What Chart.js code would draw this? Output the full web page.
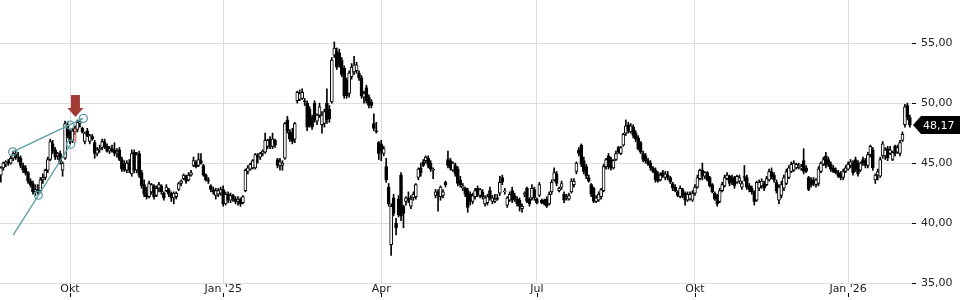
<!DOCTYPE html>
<html>
<head>
<meta charset="utf-8">
<script src="https://cdn.jsdelivr.net/npm/chart.js@4.4.1/dist/chart.umd.min.js"></script>
<style>
  html, body { margin: 0; padding: 0; background: #fff; }
  #wrap { width: 960px; height: 300px; }
</style>
</head>
<body>
<div id="wrap"><canvas id="kurs"></canvas></div>
<script>
// daily candles, one per trading day (index 0 = late Aug 2024)
const opens = [
  44.0,44.6,44.9,45.1,45.0,45.4,45.8,45.5,45.4,44.8,
  44.6,44.2,43.5,43.3,42.6,42.8,42.7,43.6,43.8,44.4,
  45.3,46.6,46.1,45.6,45.8,44.4,45.4,48.2,47.6,46.9,
  47.6,47.8,48.3,47.9,46.8,47.7,46.8,47.2,46.7,45.8,
  46.1,46.3,46.8,46.4,46.0,46.2,46.1,45.8,46.1,45.3,
  44.9,44.4,45.0,44.1,45.9,44.4,45.8,44.2,43.2,42.4,
  42.2,42.6,43.1,42.3,42.9,43.1,42.5,42.7,42.8,42.4,
  42.1,42.2,42.8,43.3,43.7,43.9,43.6,44.0,44.8,45.1,
  44.8,45.2,44.8,44.0,43.6,43.1,42.8,42.3,42.4,42.5,
  42.8,41.6,42.4,41.9,42.3,42.0,41.8,42.0,41.7,42.7,
  44.3,44.5,44.6,44.6,45.6,45.5,45.8,45.9,46.4,47.0,
  46.4,46.9,45.3,44.8,44.8,45.4,48.6,47.6,47.5,47.0,
  50.2,50.3,50.4,50.2,50.0,49.5,48.8,50.0,48.5,49.0,
  48.2,48.3,50.0,49.5,50.1,54.0,54.3,54.2,53.6,52.9,
  51.9,50.8,52.2,52.6,52.7,52.5,52.1,50.5,51.3,50.5,
  50.1,48.3,47.7,46.7,46.6,45.8,44.7,43.0,38.2,42.1,
  40.0,42.0,44.0,41.4,41.8,42.1,41.4,42.1,42.2,43.8,
  44.6,45.1,45.2,45.4,45.0,44.4,42.3,42.6,42.2,42.3,
  43.4,45.3,45.2,44.4,44.8,44.5,43.6,42.9,42.9,42.7,
  42.4,41.8,42.2,42.9,42.3,42.6,41.6,41.7,42.7,41.8,
  41.8,42.1,42.5,43.8,42.6,41.5,41.9,42.7,42.3,42.0,
  41.9,41.2,42.4,42.9,42.0,42.1,42.8,42.0,42.3,41.9,
  41.9,42.0,41.6,42.6,43.6,44.1,42.7,43.0,42.4,42.1,
  42.0,42.6,43.2,44.3,46.1,46.5,45.2,44.7,43.8,43.2,
  42.9,41.8,41.9,42.2,42.7,44.7,45.6,45.3,44.6,45.3,
  46.3,45.8,46.5,47.5,48.2,47.6,48.0,47.5,47.1,46.7,
  45.8,45.6,45.2,45.0,44.6,44.4,44.1,43.6,44.2,43.8,
  44.0,43.8,43.3,43.0,42.6,42.2,42.8,42.5,41.9,42.0,
  41.9,42.5,43.0,43.7,44.4,43.9,44.2,43.8,43.2,42.5,
  42.3,41.8,42.7,43.1,43.7,43.9,43.8,43.8,43.4,43.5,
  43.0,43.85,43.8,43.1,42.9,42.6,41.9,42.9,43.1,43.3,
  43.2,43.6,44.3,44.0,43.4,41.9,42.3,42.9,43.3,43.8,
  44.3,44.4,44.6,44.7,44.6,45.2,44.6,43.8,43.6,43.6,
  43.2,43.3,44.3,44.9,45.6,45.3,44.9,44.6,44.4,44.2,
  44.1,43.8,44.3,44.5,44.8,45.0,45.3,45.0,44.4,45.3,
  45.2,44.8,45.7,46.1,43.6,44.0,43.9,45.6,45.6,46.2,
  45.8,45.3,46.4,45.9,45.8,46.9,48.2,49.8,48.8
];
const highs = [
  44.7,45.1,45.2,45.3,45.6,46.0,46.1,45.9,45.6,45.0,
  44.8,44.3,43.7,43.5,43.2,43.2,43.8,44.1,44.5,45.5,
  47.0,46.9,46.3,45.9,46.0,45.1,48.5,48.4,47.8,47.9,
  48.1,48.6,48.7,48.0,47.6,47.9,47.4,47.4,46.9,46.3,
  46.5,47.0,47.0,46.6,46.4,46.5,46.7,46.2,46.3,45.5,
  45.2,45.2,45.3,46.1,46.1,45.9,46.0,44.4,43.6,43.0,
  43.5,43.3,43.2,43.1,43.4,43.2,42.6,43.2,42.9,42.6,
  42.6,42.6,43.4,43.6,44.1,44.0,44.2,44.4,45.5,45.2,
  45.8,45.8,44.9,44.1,43.8,43.2,43.0,42.9,42.9,43.0,
  43.1,42.6,42.6,42.5,42.4,42.2,42.2,42.1,42.3,44.5,
  44.8,45.0,45.3,45.8,45.8,45.9,46.1,47.5,47.0,47.2,
  47.5,47.0,45.4,45.4,45.2,48.4,48.9,47.8,47.9,48.4,
  51.0,51.1,51.2,50.4,50.2,49.7,49.0,50.2,49.1,50.0,
  49.3,49.5,51.2,49.8,53.8,55.1,54.6,54.5,53.8,53.1,
  52.1,52.7,53.3,53.9,53.4,52.7,52.3,51.0,51.5,50.7,
  50.3,49.1,48.4,46.8,46.9,46.4,45.4,43.3,41.6,42.4,
  40.4,42.3,44.2,41.5,42.2,42.6,42.3,42.6,43.3,44.6,
  45.0,45.3,45.6,45.6,45.2,44.6,42.8,42.8,43.1,42.8,
  43.5,46.0,45.4,45.1,45.0,44.7,43.9,43.3,43.0,42.9,
  42.6,42.5,42.9,43.1,42.9,42.8,42.3,42.4,43.0,42.3,
  42.4,42.4,43.9,44.0,42.9,42.2,42.6,43.0,42.5,42.2,
  42.1,41.6,42.6,43.0,42.1,43.2,43.0,42.1,43.4,42.0,
  42.0,42.2,42.6,43.6,44.6,44.3,43.0,43.5,42.6,42.4,
  42.5,43.7,43.7,45.1,46.3,46.6,45.5,44.9,44.0,43.3,
  43.0,42.3,42.6,42.9,44.9,45.4,45.8,45.5,45.3,46.0,
  46.4,46.4,47.5,48.6,48.4,48.3,48.2,47.7,47.3,46.8,
  46.0,45.8,45.4,45.2,44.7,44.6,44.3,44.2,44.4,44.3,
  44.3,43.9,43.4,43.2,42.7,43.1,42.9,42.6,42.6,42.6,
  42.7,43.2,44.0,44.5,45.0,44.3,44.3,43.9,43.3,42.6,
  42.4,42.9,43.4,44.0,44.2,44.0,44.0,43.9,44.0,44.0,
  43.5,44.8,44.0,43.3,43.1,42.7,43.5,43.6,43.7,43.5,
  43.9,44.5,44.6,44.2,43.6,43.2,43.5,44.0,44.5,44.8,
  45.1,45.2,45.0,45.0,44.9,46.2,44.8,43.9,43.8,43.8,
  43.7,44.7,45.1,45.5,45.9,45.5,45.1,44.8,44.6,44.4,
  44.3,44.5,44.8,45.1,45.3,45.2,45.5,45.2,45.1,45.5,
  45.4,45.9,46.5,46.3,44.1,44.5,45.5,46.8,46.3,46.4,
  46.4,46.0,46.5,46.5,46.9,47.6,49.9,50.0,49.0
];
const lows = [
  43.4,44.4,44.7,44.8,44.9,45.2,45.3,45.1,44.6,44.2,
  44.0,43.3,43.0,42.4,42.3,42.4,42.5,43.3,43.6,44.2,
  45.2,45.8,45.3,45.3,44.9,43.9,45.3,47.1,46.6,46.7,
  47.4,47.6,48.0,47.5,46.6,47.2,46.6,46.9,45.4,45.6,
  45.9,46.1,46.2,45.9,45.8,45.9,45.6,45.5,45.2,44.3,
  44.3,44.2,44.2,43.9,44.2,44.2,43.8,42.9,42.2,42.0,
  42.1,42.4,42.0,42.2,42.6,42.4,41.9,42.6,42.2,41.8,
  41.6,42.0,42.7,43.1,43.6,43.3,43.5,43.9,44.7,44.6,
  44.7,44.9,43.9,43.5,43.3,42.6,42.4,42.0,42.2,42.3,
  41.4,41.5,41.7,41.7,41.8,41.6,41.5,41.4,41.6,42.6,
  44.1,44.4,44.5,44.5,45.0,45.3,45.6,45.8,46.2,46.2,
  46.2,46.3,44.6,44.4,44.4,45.3,47.5,46.8,46.6,46.7,
  50.0,50.2,50.3,49.8,47.7,48.0,47.8,48.4,48.2,48.8,
  47.5,48.0,48.3,48.4,50.0,53.8,52.8,53.0,52.2,50.4,
  50.4,50.5,52.0,52.4,52.5,51.9,50.4,50.0,50.0,49.6,
  49.6,47.7,47.5,45.3,45.2,45.6,43.4,41.4,37.3,40.6,
  39.0,40.5,40.2,39.6,41.5,41.7,41.2,41.9,42.0,43.6,
  43.9,44.7,45.0,44.6,44.3,43.7,42.1,41.0,41.9,42.1,
  43.0,44.6,44.4,44.3,43.9,43.1,43.0,42.7,42.2,40.9,
  41.5,41.6,42.0,42.2,42.1,42.0,41.4,41.5,41.9,41.6,
  41.7,41.9,42.3,43.2,42.4,41.3,41.8,41.7,41.8,41.4,
  41.0,40.9,42.2,41.7,41.4,41.9,41.9,41.6,42.2,41.6,
  41.5,41.3,41.5,42.4,43.5,43.1,42.6,42.8,41.7,41.9,
  41.9,42.5,43.0,44.1,45.6,44.7,44.1,43.7,43.4,42.2,
  41.7,41.7,41.8,42.0,42.6,44.5,44.5,44.4,44.5,45.2,
  45.8,45.7,46.4,47.3,47.5,47.5,47.1,46.8,46.1,45.8,
  45.1,45.0,44.8,44.4,44.2,43.4,43.4,43.5,43.8,43.6,
  43.6,43.3,42.7,42.6,42.2,42.1,42.1,41.5,41.8,41.9,
  41.8,42.3,42.9,43.6,43.6,43.7,43.5,43.0,42.5,41.9,
  41.4,41.7,42.6,43.0,43.6,43.1,43.2,42.9,43.3,43.3,
  42.8,43.5,42.8,42.6,42.4,41.5,41.8,42.7,42.9,42.7,
  43.1,43.5,43.7,43.4,42.5,41.6,42.1,42.7,43.2,43.7,
  44.2,44.3,44.5,44.5,44.4,44.1,44.2,42.7,43.0,43.1,
  43.0,43.1,44.2,44.8,44.6,44.7,44.3,44.2,44.1,43.8,
  43.6,43.6,44.2,44.4,44.6,44.0,44.3,43.9,44.3,44.8,
  44.6,44.6,45.5,44.4,43.3,43.6,43.8,45.4,45.3,45.2,
  45.7,45.2,45.6,45.8,45.6,46.8,48.0,48.6,48.0
];
const closes = [
  44.6,45.0,45.1,45.0,45.4,45.8,45.5,45.4,44.8,44.4,
  44.2,43.5,43.2,42.6,42.8,42.6,43.6,43.8,44.4,45.3,
  46.8,46.0,45.5,45.8,45.1,45.0,48.3,47.3,46.8,47.7,
  47.9,48.4,48.5,47.6,47.5,47.3,47.3,47.0,45.8,46.1,
  46.2,46.8,46.4,46.0,46.2,46.0,45.8,45.9,45.3,44.5,
  44.4,45.0,44.4,45.8,44.4,45.7,44.0,43.1,42.4,42.2,
  43.3,43.2,42.2,42.9,43.2,42.6,42.1,43.0,42.4,42.1,
  42.5,42.5,43.3,43.5,44.0,43.5,44.0,44.2,45.2,44.7,
  45.3,45.0,44.0,43.6,43.5,42.8,42.6,42.7,42.7,42.8,
  41.6,42.4,41.9,42.3,42.0,41.8,42.0,41.6,42.2,44.4,
  44.6,44.9,45.2,45.7,45.5,45.8,46.0,46.9,46.9,46.4,
  47.0,46.5,44.8,45.1,45.0,48.3,47.7,47.0,46.8,48.3,
  50.9,50.8,50.9,50.1,48.0,48.2,48.0,48.6,49.0,49.7,
  49.0,49.3,48.6,48.7,53.6,54.6,53.0,53.2,52.4,50.6,
  50.6,52.5,53.0,53.2,53.2,52.1,50.6,50.8,50.2,49.8,
  49.8,47.9,47.6,45.8,46.0,46.2,43.6,41.6,41.4,40.8,
  39.6,40.7,40.6,40.8,42.1,41.9,42.0,42.4,43.2,44.5,
  44.2,44.8,45.5,44.8,44.5,44.4,42.6,42.3,43.0,42.6,
  43.2,44.8,44.6,45.0,44.1,43.3,43.2,43.1,42.4,41.3,
  41.8,42.3,42.7,42.4,42.8,42.2,42.1,42.2,42.1,42.1,
  42.0,42.0,43.4,43.4,42.6,42.1,42.4,41.9,42.0,41.6,
  41.4,41.4,42.4,41.8,41.6,42.9,42.1,41.7,43.2,41.7,
  41.6,41.4,42.4,43.4,44.2,43.3,42.9,43.3,41.9,42.2,
  42.3,43.5,43.5,45.0,45.8,44.9,44.3,43.9,43.5,42.4,
  41.8,42.1,42.4,42.8,44.7,45.3,44.7,44.6,45.2,45.8,
  45.9,46.3,47.4,48.1,47.7,48.1,47.3,47.0,46.2,45.9,
  45.3,45.2,44.9,44.6,44.3,43.6,43.5,44.0,43.9,44.1,
  43.8,43.4,42.9,42.7,42.3,42.9,42.3,41.9,42.4,42.4,
  42.5,43.0,43.8,44.4,43.9,44.2,43.6,43.1,42.6,42.0,
  41.6,42.7,43.2,43.8,44.0,43.3,43.4,43.1,43.9,43.8,
  43.3,43.8,43.0,42.8,42.6,41.8,43.4,43.4,43.5,42.9,
  43.7,44.3,43.9,43.6,42.7,43.0,43.2,43.8,44.3,44.6,
  44.9,45.0,44.9,44.7,44.6,44.3,44.3,42.8,43.2,43.3,
  43.6,44.5,45.0,45.3,44.8,44.9,44.5,44.3,44.2,43.9,
  43.8,44.3,44.6,44.9,45.1,44.2,44.5,44.1,45.0,45.0,
  44.8,45.7,46.4,44.6,44.0,44.3,45.3,46.6,46.1,45.4,
  46.1,45.9,45.8,46.3,46.7,47.4,49.7,48.8,48.17
];

// month ticks (trading-day index of first session)
const tickIndex = [28, 90, 154, 217, 281, 343];
const tickLabels = ['Okt', "Jan '25", 'Apr', 'Jul', 'Okt', "Jan '26"];
const priceTicks = [35, 40, 45, 50, 55];

// drawing tools on the chart, in [index, price]
const trendLines = [
  [[4.8, 45.94], [33.4, 48.73]],
  [[5.0, 39.0], [28.3, 46.58]]
];
const trendPoints = [[4.8, 45.94], [15.2, 42.33], [28.3, 46.58], [28.0, 48.17], [33.4, 48.73]];
const signalArrow = [30.2, 48.85];
const signalMark = [30.2, 47.9, 46.7];

const fmt = v => v.toFixed(2).replace('.', ',');

const bodies = closes.map((c, i) => ({ x: i, y: [opens[i], c] }));
const wicks = closes.map((c, i) => ({ x: i, y: [lows[i], highs[i]] }));
const bodyFill = closes.map((c, i) => (c >= opens[i] ? '#ffffff' : '#000000'));

const noPad = s => {
  s.paddingTop = 0;
  s.paddingBottom = 0;
  s.paddingLeft = 0;
  s.paddingRight = 0;
};

const extras = {
  id: 'extras',
  afterDatasetsDraw(chart) {
    const { ctx, chartArea, scales: { x, y } } = chart;
    ctx.save();
    ctx.beginPath();
    ctx.rect(chartArea.left, chartArea.top, chartArea.width, chartArea.height);
    ctx.clip();

    // pale red highlight
    ctx.strokeStyle = 'rgba(220,110,100,0.8)';
    ctx.lineWidth = 2;
    ctx.beginPath();
    ctx.moveTo(x.getPixelForValue(signalMark[0]), y.getPixelForValue(signalMark[1]));
    ctx.lineTo(x.getPixelForValue(signalMark[0]), y.getPixelForValue(signalMark[2]));
    ctx.stroke();

    // trend lines
    ctx.strokeStyle = '#5c9ea7';
    ctx.lineWidth = 1.3;
    trendLines.forEach(([a, b]) => {
      ctx.beginPath();
      ctx.moveTo(x.getPixelForValue(a[0]), y.getPixelForValue(a[1]));
      ctx.lineTo(x.getPixelForValue(b[0]), y.getPixelForValue(b[1]));
      ctx.stroke();
    });
    trendPoints.forEach(p => {
      ctx.beginPath();
      ctx.arc(x.getPixelForValue(p[0]), y.getPixelForValue(p[1]), 4, 0, Math.PI * 2);
      ctx.stroke();
    });

    // red down arrow
    const ax = x.getPixelForValue(signalArrow[0]);
    const ay = y.getPixelForValue(signalArrow[1]);
    ctx.fillStyle = '#a23b35';
    ctx.beginPath();
    ctx.moveTo(ax, ay);
    ctx.lineTo(ax - 8, ay - 9);
    ctx.lineTo(ax - 4.5, ay - 9);
    ctx.lineTo(ax - 4.5, ay - 22);
    ctx.lineTo(ax + 4.5, ay - 22);
    ctx.lineTo(ax + 4.5, ay - 9);
    ctx.lineTo(ax + 8, ay - 9);
    ctx.closePath();
    ctx.fill();
    ctx.restore();
  },
  afterDraw(chart) {
    const { ctx, chartArea, scales: { x, y } } = chart;
    ctx.save();
    // small tick marks under the month labels
    ctx.strokeStyle = '#000';
    ctx.lineWidth = 1;
    tickIndex.forEach(v => {
      const px = Math.round(x.getPixelForValue(v)) + 0.5;
      ctx.beginPath();
      ctx.moveTo(px, chartArea.bottom + 10);
      ctx.lineTo(px, chartArea.bottom + 14);
      ctx.stroke();
    });

    // last price tag
    const last = closes[closes.length - 1];
    const py = Math.round(y.getPixelForValue(last));
    const tip = chartArea.right + 1;
    ctx.fillStyle = '#000';
    ctx.beginPath();
    ctx.moveTo(tip, py);
    ctx.lineTo(tip + 8, py - 9);
    ctx.lineTo(chart.width, py - 9);
    ctx.lineTo(chart.width, py + 9);
    ctx.lineTo(tip + 8, py + 9);
    ctx.closePath();
    ctx.fill();
    ctx.fillStyle = '#fff';
    ctx.font = '11px "DejaVu Sans"';
    ctx.textBaseline = 'middle';
    ctx.textAlign = 'left';
    ctx.fillText(fmt(last), tip + 10, py + 1);
    ctx.restore();
  }
};

new Chart(document.getElementById('kurs'), {
  type: 'bar',
  data: {
    datasets: [
      {
        data: bodies,
        grouped: false,
        barThickness: 3,
        minBarLength: 1,
        backgroundColor: bodyFill,
        borderColor: '#000',
        borderWidth: 1,
        borderSkipped: false
      },
      {
        data: wicks,
        grouped: false,
        barThickness: 1,
        minBarLength: 1,
        backgroundColor: '#000',
        borderWidth: 0
      }
    ]
  },
  options: {
    responsive: true,
    maintainAspectRatio: false,
    animation: false,
    layout: { padding: 0 },
    plugins: { legend: { display: false }, tooltip: { enabled: false } },
    scales: {
      x: {
        type: 'linear',
        min: -0.34,
        max: 368.86,
        offset: false,
        afterBuildTicks: s => { s.ticks = tickIndex.map(v => ({ value: v })); },
        afterFit: s => { s.height = 17; noPad(s); },
        grid: { color: '#dddddd', drawTicks: false, offset: false },
        border: { display: false },
        ticks: {
          padding: 0,
          maxRotation: 0,
          autoSkip: false,
          color: '#222',
          font: { family: 'DejaVu Sans', size: 11 },
          callback: v => tickLabels[tickIndex.indexOf(v)]
        }
      },
      y: {
        position: 'right',
        min: 35,
        max: 58.6,
        afterBuildTicks: s => { s.ticks = priceTicks.map(v => ({ value: v })); },
        afterFit: s => { s.width = 48; noPad(s); },
        grid: { color: '#dddddd', tickColor: '#000', tickLength: 4 },
        border: { display: false },
        ticks: {
          padding: 5,
          color: '#222',
          font: { family: 'DejaVu Sans', size: 11 },
          callback: v => fmt(v)
        }
      }
    }
  },
  plugins: [extras]
});
</script>
</body>
</html>
